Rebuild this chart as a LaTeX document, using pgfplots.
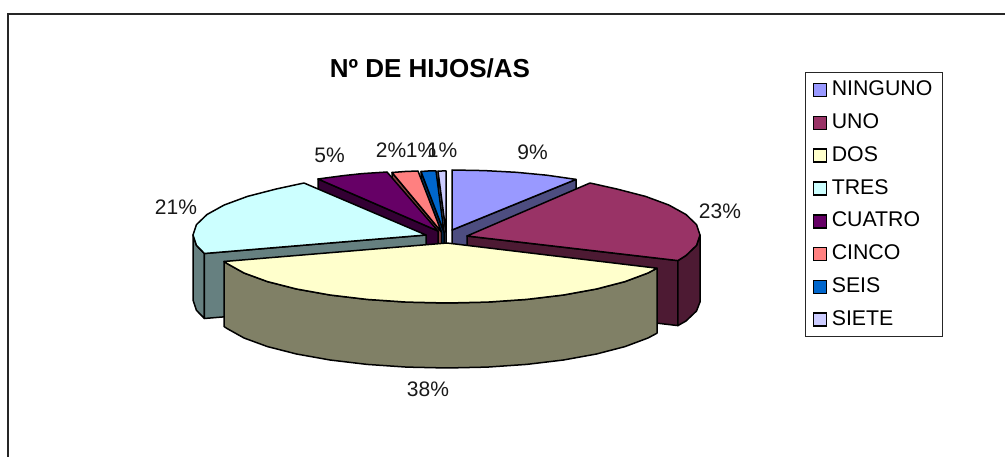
\documentclass[border=0pt]{standalone}
\usepackage{pgfplots}
\usepackage{fontspec}
\pgfplotsset{compat=1.18}
\setmainfont{Liberation Sans}
\definecolor{cnin}{HTML}{9999FF}\definecolor{snin}{HTML}{4D4D80}
\definecolor{cuno}{HTML}{993366}\definecolor{suno}{HTML}{4D1A33}
\definecolor{cdos}{HTML}{FFFFCC}\definecolor{sdos}{HTML}{808066}
\definecolor{ctre}{HTML}{CCFFFF}\definecolor{stre}{HTML}{668080}
\definecolor{ccua}{HTML}{660066}\definecolor{scua}{HTML}{330033}
\definecolor{ccin}{HTML}{FF8080}\definecolor{scin}{HTML}{804040}
\definecolor{csei}{HTML}{0066CC}\definecolor{ssei}{HTML}{003366}
\definecolor{csie}{HTML}{CCCCFF}\definecolor{ssie}{HTML}{666680}
\tikzset{lab/.style={font=\fontsize{21}{24}\selectfont, anchor=base, inner sep=0pt, text=black!90}}
\newcommand{\legtxt}[1]{\raisebox{1.5pt}[14.5pt][0pt]{#1}}
\begin{document}
\begin{tikzpicture}
\useasboundingbox (0,0) rectangle (1005pt,457pt);
\begin{axis}[
    at={(0,0)}, anchor=south west,
    scale only axis, width=1005pt, height=457pt,
    xmin=0, xmax=1005, ymin=0, ymax=457, y dir=reverse,
    axis lines=none, clip=true,
    slice/.style={draw=black, line width=1.5pt, line join=round, mark=none, forget plot},
    legend cell align=left,
    legend image code/.code={
        \draw[draw=black, line width=1.6pt, #1] (0pt,-6.5pt) rectangle (13pt,6.5pt);
    },
    legend style={
        at={(axis cs:805.3,72.3)}, anchor=north west,
        draw=black!85, line width=0.8pt, fill=white,
        inner xsep=7pt, inner ysep=10pt,
        font=\fontsize{21.3}{24}\selectfont,
        /tikz/every odd column/.append style={column sep=4.5pt},
        /tikz/row sep=18.2pt,
        nodes={inner sep=0pt, inner ysep=0pt, text height=14.5pt, text depth=0pt, anchor=west},
    },
]
% legend, in the reference's order
\addlegendimage{fill=cnin}\addlegendentry{\legtxt{NINGUNO}\kern3.3pt}
\addlegendimage{fill=cuno}\addlegendentry{\legtxt{UNO}}
\addlegendimage{fill=cdos}\addlegendentry{\legtxt{DOS}}
\addlegendimage{fill=ctre}\addlegendentry{\legtxt{TRES}}
\addlegendimage{fill=ccua}\addlegendentry{\legtxt{CUATRO}}
\addlegendimage{fill=ccin}\addlegendentry{\legtxt{CINCO}}
\addlegendimage{fill=csei}\addlegendentry{\legtxt{SEIS}}
\addlegendimage{fill=csie}\addlegendentry{\legtxt{SIETE}}

% frame, open at the bottom and on the right
\addplot[draw=black!85, line width=1.6pt, mark=none, forget plot] coordinates {(8,470) (8,14) (1020,14)};

% SIETE
\addplot[slice, fill=ssie] coordinates {(446,232) (438,171.2) (438,236) (446,297)} --cycle;
\addplot[slice, fill=csie] coordinates {(446,232) (446,171) (442,171) (438,171.2)} --cycle;
% SEIS
\addplot[slice, fill=ssei] coordinates {(444,232) (421,171.5) (421,236) (444,297)} --cycle;
\addplot[slice, fill=csei] coordinates {(444,232) (436,171) (428,171) (421,171.5)} --cycle;
% CINCO
\addplot[slice, fill=scin] coordinates {(441.5,232) (392,172.5) (392,237) (441.5,297)} --cycle;
\addplot[slice, fill=ccin] coordinates {(441.5,232) (418,171) (405,171.5) (392,172.5)} --cycle;
% CUATRO
\addplot[slice, fill=scua] coordinates {(438,231) (318,179) (318,244) (438,296)} --cycle;
\addplot[slice, fill=ccua] coordinates {(438,231) (387,172) (362.3,173.6) (343.5,175.6) (318,179)} --cycle;
% NINGUNO
\addplot[slice, fill=snin] coordinates {(452,230) (576,179.4) (576,244.4) (452,295)} --cycle;
\addplot[slice, fill=cnin] coordinates {(452,230) (452,170) (484.4,170.6) (516.3,172.3) (546.8,175.2) (576,179.4)} --cycle;
% TRES
\addplot[slice, fill=stre] coordinates {(193,235) (196.5,245.4) (204.4,253.5) (204.4,318.5) (196.5,310.4) (193,300)} --cycle;
\addplot[slice, fill=stre] coordinates {(426,235) (204.4,253.5) (204.4,318.5) (426,300)} --cycle;
\addplot[slice, fill=ctre] coordinates {(426,235) (204.4,253.5) (196.5,245.4) (193,235) (196.5,224.6) (207,214.5) (224.2,205) (247.5,196.4) (276.2,189) (304,183)} --cycle;
% UNO
\addplot[slice, fill=suno] coordinates {(467,236) (677.9,260.6) (677.9,325.6) (467,301)} --cycle;
\addplot[slice, fill=suno] coordinates {(700,235) (696.5,245.4) (686,255.5) (677.9,260.6) (677.9,325.6) (686,321) (696.5,311) (700,302)} --cycle;
\addplot[slice, fill=cuno] coordinates {(467,236) (590,183) (616.8,189) (645.5,196.4) (668.8,205) (686,214.5) (696.5,224.6) (700,235) (696.5,245.4) (686,255.5) (677.9,260.6)} --cycle;
% DOS
\addplot[slice, fill=sdos] coordinates {(657,268.2) (648,273) (625,281.6) (596.5,289) (563.5,295) (526.7,299.4) (487.5,302.1) (447,303) (406.5,302.1) (367,299.4) (330,295) (296.5,289) (267.5,281.6) (244,273) (227,263.5) (224,261.5) (224,326.5) (227,328.5) (244,338) (267.5,346.6) (296.5,354) (330,360) (367,364.4) (406.5,367.1) (447,368) (487.5,367.1) (526.7,364.4) (563.5,360) (596.5,354) (625,346.6) (648,338) (657,333.2)} --cycle;
\addplot[slice, fill=cdos] coordinates {(447,243) (657,268.2) (648,273) (625,281.6) (596.5,289) (563.5,295) (526.7,299.4) (487.5,302.1) (447,303) (406.5,302.1) (367,299.4) (330,295) (296.5,289) (267.5,281.6) (244,273) (227,263.5) (224,261.5)} --cycle;

% percentage labels
\node[lab] at (axis cs:532.6,160) {9\%};
\node[lab] at (axis cs:720,219) {23\%};
\node[lab] at (axis cs:428,396.5) {38\%};
\node[lab] at (axis cs:176,215) {21\%};
\node[lab] at (axis cs:329.5,162.5) {5\%};
\node[lab] at (axis cs:391,158) {2\%};
\node[lab] at (axis cs:421,158) {1\%};
\node[lab] at (axis cs:442,158) {1\%};
% title
\node[font=\fontsize{26}{30}\selectfont\bfseries, anchor=base, inner sep=0pt] at (axis cs:430,78) {Nº DE HIJOS/AS};
\end{axis}
\end{tikzpicture}
\end{document}
